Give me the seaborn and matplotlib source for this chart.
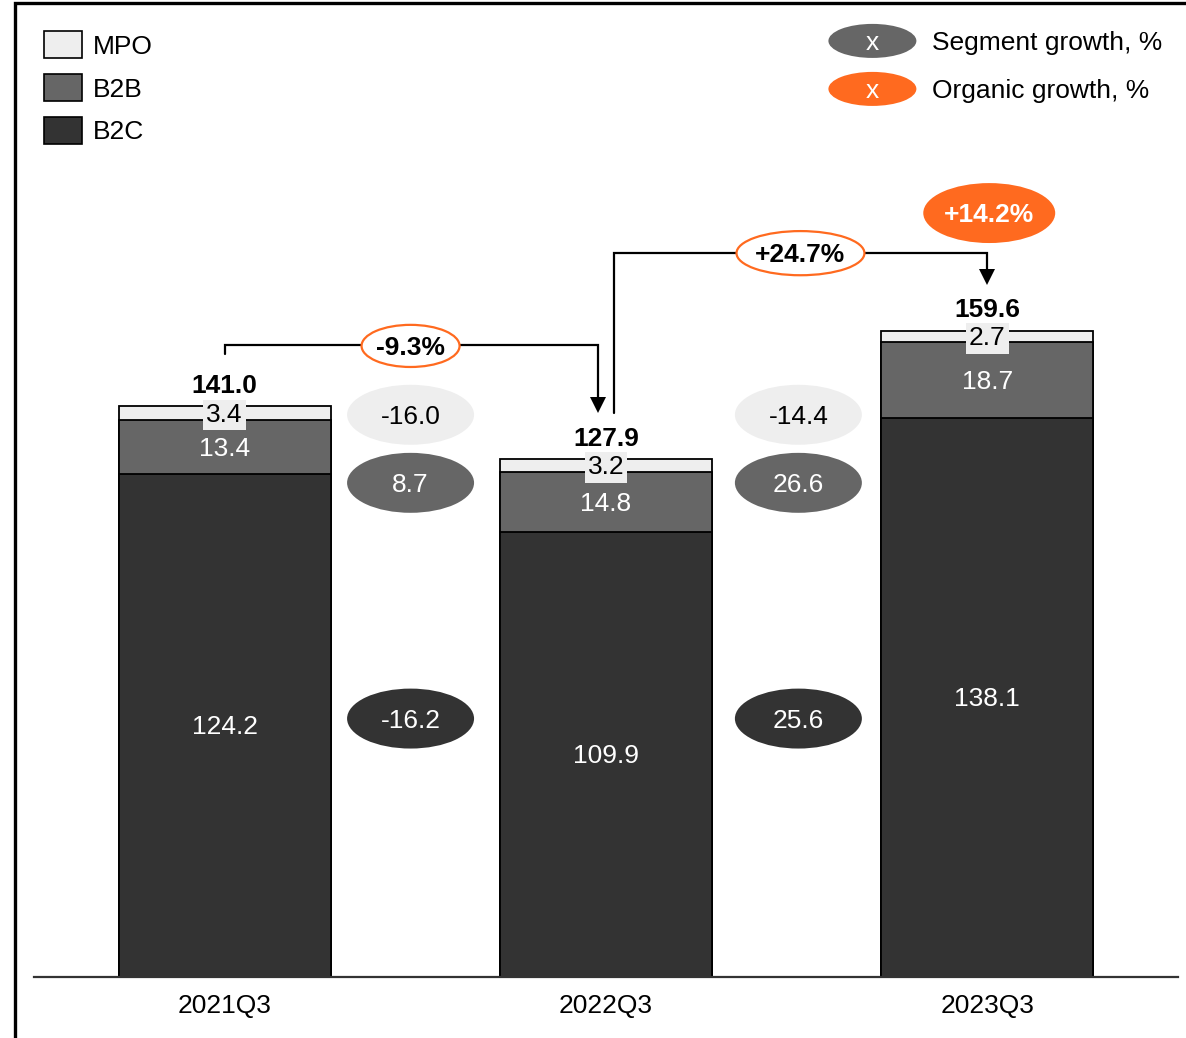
import matplotlib
matplotlib.use("Agg")
import matplotlib.pyplot as plt
from matplotlib.patches import Ellipse, Rectangle
from matplotlib.lines import Line2D
import seaborn as sns
import pandas as pd

# --- data -------------------------------------------------------------
periods = ["2021Q3", "2022Q3", "2023Q3"]
b2c = [124.2, 109.9, 138.1]
b2b = [13.4, 14.8, 18.7]
mpo = [3.4, 3.2, 2.7]
totals = [141.0, 127.9, 159.6]

# segment growth between consecutive periods, %
growth_mpo = [-16.0, -14.4]
growth_b2b = [8.7, 26.6]
growth_b2c = [-16.2, 25.6]
# total change between periods and organic growth, %
total_change = ["-9.3%", "+24.7%"]
organic_growth = "+14.2%"

# --- style ------------------------------------------------------------
sns.set_style("white")
plt.rcParams["font.family"] = ["Liberation Sans", "DejaVu Sans"]
plt.rcParams["text.color"] = "black"
plt.rcParams["xtick.color"] = "black"

C_MPO = "#EEEEEE"
C_B2B = "#666666"
C_B2C = "#333333"
ORANGE = "#FF6A1F"
FS = 19
DY = -0.5  # small downward nudge so text sits optically centred

fig = plt.figure(figsize=(11.86, 10.38), dpi=100)
ax = fig.add_axes([34 / 1186, 61 / 1038, 1144 / 1186, 977 / 1038])

df = pd.DataFrame({"period": periods, "b2c": b2c, "b2b": b2b, "mpo": mpo})
df["lvl_b2b"] = df["b2c"] + df["b2b"]
df["lvl_mpo"] = df["lvl_b2b"] + df["mpo"]

BAR_W = 0.556
bar_kw = dict(width=BAR_W, edgecolor="black", linewidth=1.3, saturation=1,
              errorbar=None, ax=ax)
sns.barplot(data=df, x="period", y="lvl_mpo", color=C_MPO, **bar_kw)
sns.barplot(data=df, x="period", y="lvl_b2b", color=C_B2B, **bar_kw)
sns.barplot(data=df, x="period", y="b2c", color=C_B2C, **bar_kw)

ax.set_xlim(-0.5, 2.5)
ax.set_ylim(0, 241.2)
ax.set_xlabel("")
ax.set_ylabel("")
ax.set_yticks([])
ax.tick_params(axis="x", length=0, pad=12, labelsize=FS, labelcolor="black")
for s in ["left", "top", "right"]:
    ax.spines[s].set_visible(False)
ax.spines["bottom"].set_color("#333333")
ax.spines["bottom"].set_linewidth(1.6)

# --- segment labels ---------------------------------------------------
for i in range(len(periods)):
    ax.text(i, b2c[i] / 2 + DY, f"{b2c[i]:.1f}", ha="center", va="center",
            color="white", fontsize=FS, zorder=5)
    ax.text(i, b2c[i] + b2b[i] / 2 + DY, f"{b2b[i]:.1f}", ha="center",
            va="center", color="white", fontsize=FS, zorder=5)
    ax.text(i, b2c[i] + b2b[i] + mpo[i] / 2 + DY, f"{mpo[i]:.1f}", ha="center",
            va="center", color="black", fontsize=FS, zorder=6,
            bbox=dict(boxstyle="square,pad=0.12", fc=C_MPO, ec="none"))
    ax.text(i, totals[i] + 5.5 + DY, f"{totals[i]:.1f}", ha="center",
            va="center", color="black", fontsize=FS, fontweight="bold",
            zorder=5)

# --- segment growth bubbles -------------------------------------------
EW, EH = 0.333, 14.8
rows = [(growth_mpo, C_MPO, "black", 138.8),
        (growth_b2b, C_B2B, "white", 122.0),
        (growth_b2c, C_B2C, "white", 63.8)]
for vals, fc, tc, y in rows:
    for j, v in enumerate(vals):
        x = j + 0.4875 + 0.017 * j
        ax.add_patch(Ellipse((x, y), EW, EH, fc=fc, ec="none", zorder=4,
                             clip_on=False))
        ax.text(x, y + DY, f"{v:.1f}", ha="center", va="center", color=tc,
                fontsize=FS, zorder=5)

# --- connectors between totals ----------------------------------------
LW = 1.6
def connector(x0, y0, ytop, x1, ytip):
    ax.plot([x0, x0, x1, x1], [y0, ytop, ytop, ytip + 3.0], color="black",
            lw=LW, zorder=3, clip_on=False, solid_joinstyle="miter")
    # filled triangular arrowhead whose tip sits at ytip
    ax.plot([x1], [ytip + 1.85], marker="v", markersize=11, color="black",
            markeredgewidth=0, zorder=3, clip_on=False)

connector(0.0, 153.8, 156.0, 0.978, 139.3)
connector(1.0197, 139.3, 178.8, 2.0, 170.9)

# total change ellipses on the connectors
for (x, y, w, h), lab in zip([(0.4875, 155.8, 0.257, 10.4),
                              (1.51, 178.7, 0.3355, 10.9)], total_change):
    ax.add_patch(Ellipse((x, y), w, h, fc="white", ec=ORANGE, lw=1.6,
                         zorder=4, clip_on=False))
    ax.text(x, y + DY, lab, ha="center", va="center", fontsize=FS,
            fontweight="bold", color="black", zorder=5)

# organic growth bubble
ax.add_patch(Ellipse((2.005, 188.6), 0.346, 14.8, fc=ORANGE, ec="none",
                     zorder=4, clip_on=False))
ax.text(2.005, 188.6 + DY, organic_growth, ha="center", va="center",
        fontsize=FS, fontweight="bold", color="white", zorder=5)

# --- legends ------------------------------------------------------------
for k, (lab, fc) in enumerate([("MPO", C_MPO), ("B2B", C_B2B), ("B2C", C_B2C)]):
    yc = 230.2 - 10.6 * k
    ax.add_patch(Rectangle((-0.4745, yc - 3.33), 0.0996, 6.67, fc=fc,
                           ec="black", lw=1.2, clip_on=False, zorder=4))
    ax.text(-0.346, yc + DY, lab, ha="left", va="center", fontsize=FS,
            zorder=5)

for k, (lab, fc) in enumerate([("Segment growth, %", C_B2B),
                               ("Organic growth, %", ORANGE)]):
    yc = 231.1 - 11.85 * k
    ax.add_patch(Ellipse((1.6986, yc), 0.2307, 8.4, fc=fc, ec="none",
                         clip_on=False, zorder=4))
    ax.text(1.6986, yc + DY, "x", ha="center", va="center", color="white",
            fontsize=FS, zorder=5)
    ax.text(1.856, yc + DY, lab, ha="left", va="center", fontsize=FS,
            zorder=5)

# --- outer frame (top and left) ---------------------------------------
fx = 15 / 1186
fy = 1 - 3 / 1038
fig.add_artist(Line2D([fx, fx, 1.0], [0.0, fy, fy], color="black", lw=2.4,
                      transform=fig.transFigure, solid_joinstyle="miter"))

fig.savefig("out.png", dpi=100)
